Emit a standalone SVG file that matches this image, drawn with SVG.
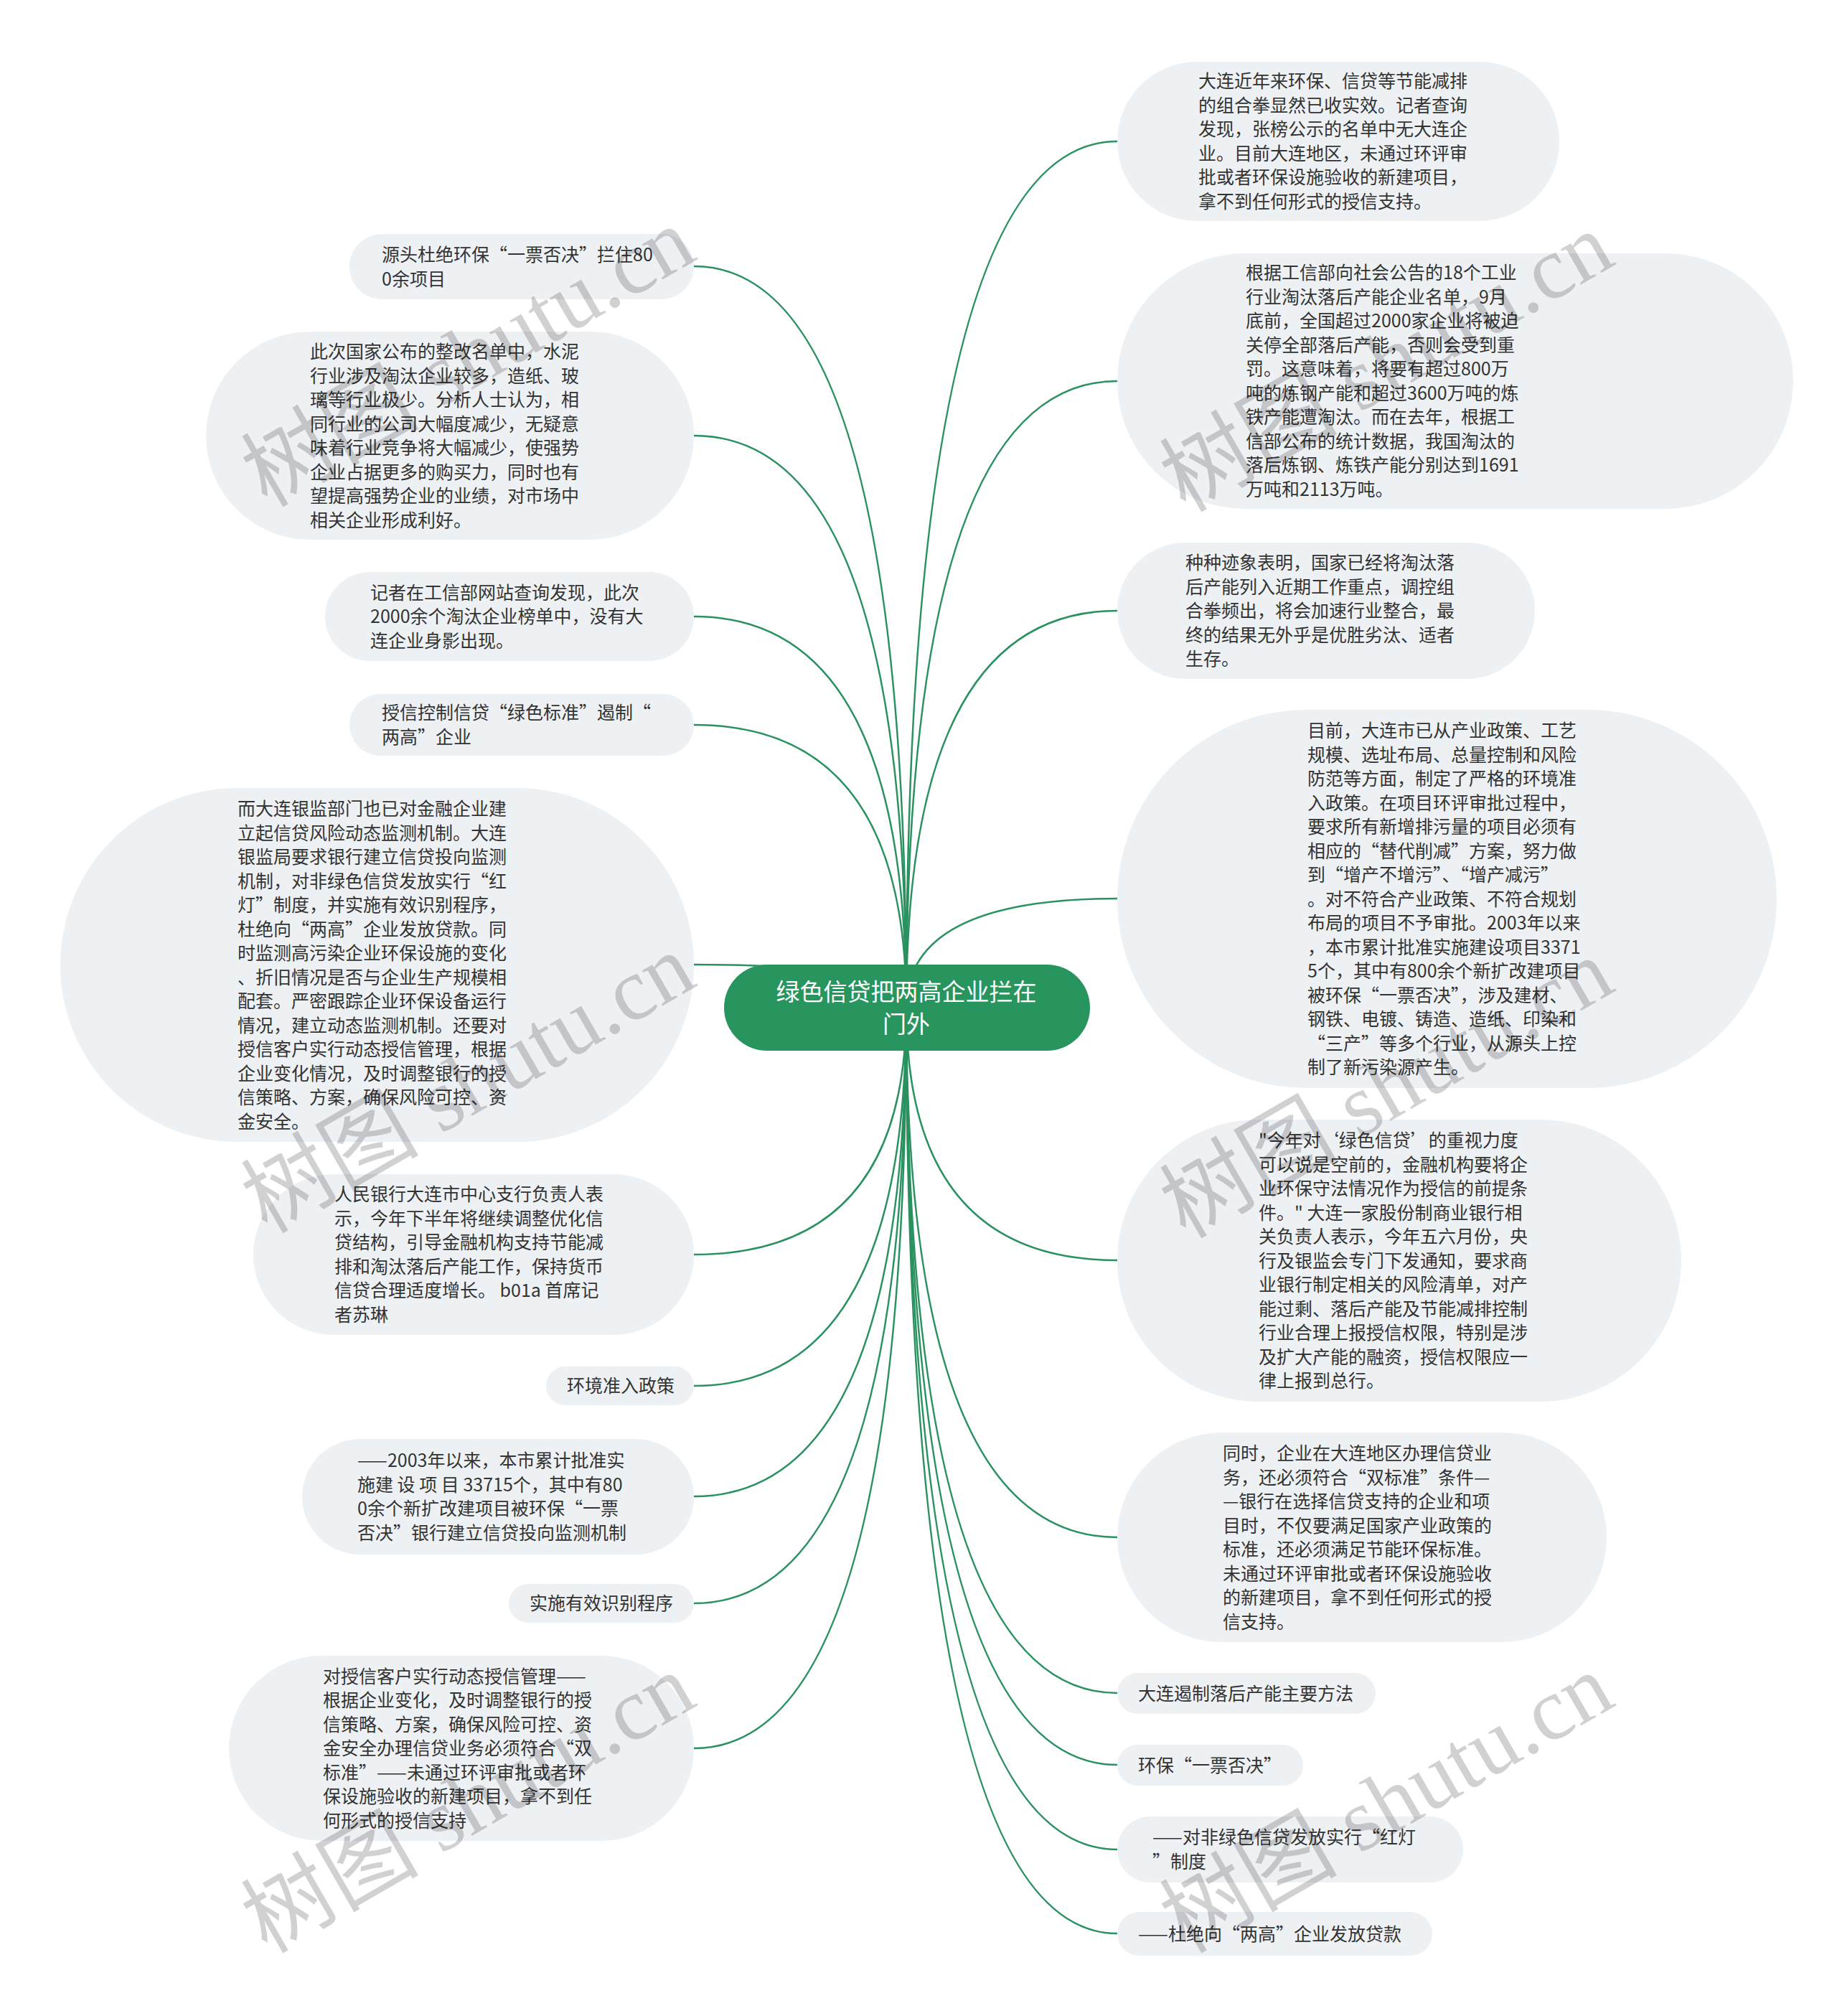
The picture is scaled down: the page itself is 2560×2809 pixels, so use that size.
<svg xmlns="http://www.w3.org/2000/svg" width="2560" height="2809" viewBox="0 0 2560 2809">
<style>
.bg{fill:#ffffff}
.n rect{fill:#eef1f4}
.t{font-family:"Noto Sans CJK SC","Liberation Sans",sans-serif;font-size:25px;fill:#333333}
.ct{font-family:"Noto Sans CJK SC","Liberation Sans",sans-serif;font-size:33px;fill:#ffffff;text-anchor:middle}
.c{fill:none;stroke:#2a9160;stroke-width:2.5}
.wm{font-family:"Noto Sans CJK SC",sans-serif;font-size:124px;fill:#000000;fill-opacity:0.18}
.wm2{font-family:"Liberation Serif",serif}
</style>
<rect class="bg" x="0" y="0" width="2560" height="2809"/>
<g id="connectors">
<path class="c" d="M1263 1404 Q1263 197 1557 197"/>
<path class="c" d="M1263 1404 Q1263 531 1557 531"/>
<path class="c" d="M1263 1404 Q1263 851 1557 851"/>
<path class="c" d="M1263 1404 Q1263 1252 1557 1252"/>
<path class="c" d="M1263 1404 Q1263 1756 1557 1756"/>
<path class="c" d="M1263 1404 Q1263 2142 1557 2142"/>
<path class="c" d="M1263 1404 Q1263 2359 1557 2359"/>
<path class="c" d="M1263 1404 Q1263 2459 1557 2459"/>
<path class="c" d="M1263 1404 Q1263 2577 1557 2577"/>
<path class="c" d="M1263 1404 Q1263 2694 1557 2694"/>
<path class="c" d="M1263 1404 Q1263 371 967 371"/>
<path class="c" d="M1263 1404 Q1263 607 967 607"/>
<path class="c" d="M1263 1404 Q1263 859 967 859"/>
<path class="c" d="M1263 1404 Q1263 1010 967 1010"/>
<path class="c" d="M1263 1404 Q1263 1344 967 1344"/>
<path class="c" d="M1263 1404 Q1263 1748 967 1748"/>
<path class="c" d="M1263 1404 Q1263 1931 967 1931"/>
<path class="c" d="M1263 1404 Q1263 2085 967 2085"/>
<path class="c" d="M1263 1404 Q1263 2234 967 2234"/>
<path class="c" d="M1263 1404 Q1263 2436 967 2436"/>
</g>
<g id="center">
<rect x="1009" y="1344" width="510" height="120" rx="60" ry="60" fill="#27955d"/>
<text class="ct"><tspan x="1263" y="1394">绿色信贷把两高企业拦在</tspan><tspan x="1263" y="1439">门外</tspan></text>
</g>
<g id="r1" class="n">
<rect x="1557" y="86" width="616" height="222" rx="111"/>
<text class="t"><tspan x="1670" y="122">大连近年来环保、信贷等节能减排</tspan><tspan x="1670" y="155.5">的组合拳显然已收实效。记者查询</tspan><tspan x="1670" y="189">发现，张榜公示的名单中无大连企</tspan><tspan x="1670" y="222.5">业。目前大连地区，未通过环评审</tspan><tspan x="1670" y="256">批或者环保设施验收的新建项目，</tspan><tspan x="1670" y="289.5">拿不到任何形式的授信支持。</tspan></text>
</g>
<g id="r2" class="n">
<rect x="1557" y="353" width="942" height="356" rx="178"/>
<text class="t"><tspan x="1736" y="389">根据工信部向社会公告的18个工业</tspan><tspan x="1736" y="422.5">行业淘汰落后产能企业名单，9月</tspan><tspan x="1736" y="456">底前，全国超过2000家企业将被迫</tspan><tspan x="1736" y="489.5">关停全部落后产能，否则会受到重</tspan><tspan x="1736" y="523">罚。这意味着，将要有超过800万</tspan><tspan x="1736" y="556.5">吨的炼钢产能和超过3600万吨的炼</tspan><tspan x="1736" y="590">铁产能遭淘汰。而在去年，根据工</tspan><tspan x="1736" y="623.5">信部公布的统计数据，我国淘汰的</tspan><tspan x="1736" y="657">落后炼钢、炼铁产能分别达到1691</tspan><tspan x="1736" y="690.5">万吨和2113万吨。</tspan></text>
</g>
<g id="r3" class="n">
<rect x="1557" y="756" width="582" height="190" rx="95"/>
<text class="t"><tspan x="1652" y="793">种种迹象表明，国家已经将淘汰落</tspan><tspan x="1652" y="826.5">后产能列入近期工作重点，调控组</tspan><tspan x="1652" y="860">合拳频出，将会加速行业整合，最</tspan><tspan x="1652" y="893.5">终的结果无外乎是优胜劣汰、适者</tspan><tspan x="1652" y="927">生存。</tspan></text>
</g>
<g id="r4" class="n">
<rect x="1557" y="989" width="919" height="527" rx="263.5"/>
<text class="t"><tspan x="1822" y="1027">目前，大连市已从产业政策、工艺</tspan><tspan x="1822" y="1060.5">规模、选址布局、总量控制和风险</tspan><tspan x="1822" y="1094">防范等方面，制定了严格的环境准</tspan><tspan x="1822" y="1127.5">入政策。在项目环评审批过程中，</tspan><tspan x="1822" y="1161">要求所有新增排污量的项目必须有</tspan><tspan x="1822" y="1194.5">相应的“替代削减”方案，努力做</tspan><tspan x="1822" y="1228">到“增产不增污”、“增产减污”</tspan><tspan x="1822" y="1261.5">。对不符合产业政策、不符合规划</tspan><tspan x="1822" y="1295">布局的项目不予审批。2003年以来</tspan><tspan x="1822" y="1328.5">，本市累计批准实施建设项目3371</tspan><tspan x="1822" y="1362">5个，其中有800余个新扩改建项目</tspan><tspan x="1822" y="1395.5">被环保“一票否决”，涉及建材、</tspan><tspan x="1822" y="1429">钢铁、电镀、铸造、造纸、印染和</tspan><tspan x="1822" y="1462.5">“三产”等多个行业，从源头上控</tspan><tspan x="1822" y="1496">制了新污染源产生。</tspan></text>
</g>
<g id="r5" class="n">
<rect x="1557" y="1560" width="786" height="393" rx="196.5"/>
<text class="t"><tspan x="1754" y="1598">"今年对‘绿色信贷’的重视力度</tspan><tspan x="1754" y="1631.5">可以说是空前的，金融机构要将企</tspan><tspan x="1754" y="1665">业环保守法情况作为授信的前提条</tspan><tspan x="1754" y="1698.5">件。" 大连一家股份制商业银行相</tspan><tspan x="1754" y="1732">关负责人表示，今年五六月份，央</tspan><tspan x="1754" y="1765.5">行及银监会专门下发通知，要求商</tspan><tspan x="1754" y="1799">业银行制定相关的风险清单，对产</tspan><tspan x="1754" y="1832.5">能过剩、落后产能及节能减排控制</tspan><tspan x="1754" y="1866">行业合理上报授信权限，特别是涉</tspan><tspan x="1754" y="1899.5">及扩大产能的融资，授信权限应一</tspan><tspan x="1754" y="1933">律上报到总行。</tspan></text>
</g>
<g id="r6" class="n">
<rect x="1557" y="1996" width="682" height="292" rx="146"/>
<text class="t"><tspan x="1704" y="2034">同时，企业在大连地区办理信贷业</tspan><tspan x="1704" y="2067.5">务，还必须符合“双标准”条件—</tspan><tspan x="1704" y="2101">—银行在选择信贷支持的企业和项</tspan><tspan x="1704" y="2134.5">目时，不仅要满足国家产业政策的</tspan><tspan x="1704" y="2168">标准，还必须满足节能环保标准。</tspan><tspan x="1704" y="2201.5">未通过环评审批或者环保设施验收</tspan><tspan x="1704" y="2235">的新建项目，拿不到任何形式的授</tspan><tspan x="1704" y="2268.5">信支持。</tspan></text>
</g>
<g id="r7" class="n">
<rect x="1557" y="2331" width="360" height="57" rx="28.5"/>
<text class="t"><tspan x="1586" y="2368.5">大连遏制落后产能主要方法</tspan></text>
</g>
<g id="r8" class="n">
<rect x="1557" y="2431" width="259" height="57" rx="28.5"/>
<text class="t"><tspan x="1586" y="2468.5">环保“一票否决”</tspan></text>
</g>
<g id="r9" class="n">
<rect x="1557" y="2531" width="482" height="92" rx="46"/>
<text class="t"><tspan x="1606" y="2569">——对非绿色信贷发放实行“红灯</tspan><tspan x="1606" y="2602.5">”制度</tspan></text>
</g>
<g id="r10" class="n">
<rect x="1557" y="2664" width="439" height="61" rx="30.5"/>
<text class="t"><tspan x="1586" y="2703.5">——杜绝向“两高”企业发放贷款</tspan></text>
</g>
<g id="l1" class="n">
<rect x="487" y="326" width="480" height="91" rx="45.5"/>
<text class="t"><tspan x="532" y="364">源头杜绝环保“一票否决”拦住80</tspan><tspan x="532" y="397.5">0余项目</tspan></text>
</g>
<g id="l2" class="n">
<rect x="287" y="462" width="680" height="290" rx="145"/>
<text class="t"><tspan x="432" y="499">此次国家公布的整改名单中，水泥</tspan><tspan x="432" y="532.5">行业涉及淘汰企业较多，造纸、玻</tspan><tspan x="432" y="566">璃等行业极少。分析人士认为，相</tspan><tspan x="432" y="599.5">同行业的公司大幅度减少，无疑意</tspan><tspan x="432" y="633">味着行业竞争将大幅减少，使强势</tspan><tspan x="432" y="666.5">企业占据更多的购买力，同时也有</tspan><tspan x="432" y="700">望提高强势企业的业绩，对市场中</tspan><tspan x="432" y="733.5">相关企业形成利好。</tspan></text>
</g>
<g id="l3" class="n">
<rect x="453" y="797" width="514" height="124" rx="62"/>
<text class="t"><tspan x="516" y="834.5">记者在工信部网站查询发现，此次</tspan><tspan x="516" y="868">2000余个淘汰企业榜单中，没有大</tspan><tspan x="516" y="901.5">连企业身影出现。</tspan></text>
</g>
<g id="l4" class="n">
<rect x="487" y="967" width="480" height="86" rx="43"/>
<text class="t"><tspan x="532" y="1002">授信控制信贷“绿色标准”遏制“</tspan><tspan x="532" y="1035.5">两高”企业</tspan></text>
</g>
<g id="l5" class="n">
<rect x="84" y="1098" width="883" height="493" rx="246.5"/>
<text class="t"><tspan x="331" y="1136">而大连银监部门也已对金融企业建</tspan><tspan x="331" y="1169.5">立起信贷风险动态监测机制。大连</tspan><tspan x="331" y="1203">银监局要求银行建立信贷投向监测</tspan><tspan x="331" y="1236.5">机制，对非绿色信贷发放实行“红</tspan><tspan x="331" y="1270">灯”制度，并实施有效识别程序，</tspan><tspan x="331" y="1303.5">杜绝向“两高”企业发放贷款。同</tspan><tspan x="331" y="1337">时监测高污染企业环保设施的变化</tspan><tspan x="331" y="1370.5">、折旧情况是否与企业生产规模相</tspan><tspan x="331" y="1404">配套。严密跟踪企业环保设备运行</tspan><tspan x="331" y="1437.5">情况，建立动态监测机制。还要对</tspan><tspan x="331" y="1471">授信客户实行动态授信管理，根据</tspan><tspan x="331" y="1504.5">企业变化情况，及时调整银行的授</tspan><tspan x="331" y="1538">信策略、方案，确保风险可控、资</tspan><tspan x="331" y="1571.5">金安全。</tspan></text>
</g>
<g id="l6" class="n">
<rect x="353" y="1636" width="614" height="224" rx="112"/>
<text class="t"><tspan x="466" y="1673">人民银行大连市中心支行负责人表</tspan><tspan x="466" y="1706.5">示，今年下半年将继续调整优化信</tspan><tspan x="466" y="1740">贷结构，引导金融机构支持节能减</tspan><tspan x="466" y="1773.5">排和淘汰落后产能工作，保持货币</tspan><tspan x="466" y="1807">信贷合理适度增长。 b01a 首席记</tspan><tspan x="466" y="1840.5">者苏琳</tspan></text>
</g>
<g id="l7" class="n">
<rect x="761" y="1904" width="206" height="54" rx="27"/>
<text class="t"><tspan x="790" y="1940">环境准入政策</tspan></text>
</g>
<g id="l8" class="n">
<rect x="421" y="2005" width="546" height="161" rx="80.5"/>
<text class="t"><tspan x="498" y="2044">——2003年以来，本市累计批准实</tspan><tspan x="498" y="2077.5">施建 设 项 目 33715个，其中有80</tspan><tspan x="498" y="2111">0余个新扩改建项目被环保“一票</tspan><tspan x="498" y="2144.5">否决”银行建立信贷投向监测机制</tspan></text>
</g>
<g id="l9" class="n">
<rect x="709" y="2207" width="258" height="54" rx="27"/>
<text class="t"><tspan x="738" y="2243">实施有效识别程序</tspan></text>
</g>
<g id="l10" class="n">
<rect x="319" y="2307" width="648" height="258" rx="129"/>
<text class="t"><tspan x="450" y="2344.5">对授信客户实行动态授信管理——</tspan><tspan x="450" y="2378">根据企业变化，及时调整银行的授</tspan><tspan x="450" y="2411.5">信策略、方案，确保风险可控、资</tspan><tspan x="450" y="2445">金安全办理信贷业务必须符合“双</tspan><tspan x="450" y="2478.5">标准”——未通过环评审批或者环</tspan><tspan x="450" y="2512">保设施验收的新建项目，拿不到任</tspan><tspan x="450" y="2545.5">何形式的授信支持</tspan></text>
</g>
<g id="watermarks">
<text class="wm" transform="translate(372 708) rotate(-30)">树图<tspan class="wm2"> shutu.cn</tspan></text>
<text class="wm" transform="translate(1652 715) rotate(-30)">树图<tspan class="wm2"> shutu.cn</tspan></text>
<text class="wm" transform="translate(372 1720) rotate(-30)">树图<tspan class="wm2"> shutu.cn</tspan></text>
<text class="wm" transform="translate(1652 1727) rotate(-30)">树图<tspan class="wm2"> shutu.cn</tspan></text>
<text class="wm" transform="translate(372 2723) rotate(-30)">树图<tspan class="wm2"> shutu.cn</tspan></text>
<text class="wm" transform="translate(1652 2723) rotate(-30)">树图<tspan class="wm2"> shutu.cn</tspan></text>
</g>
</svg>
